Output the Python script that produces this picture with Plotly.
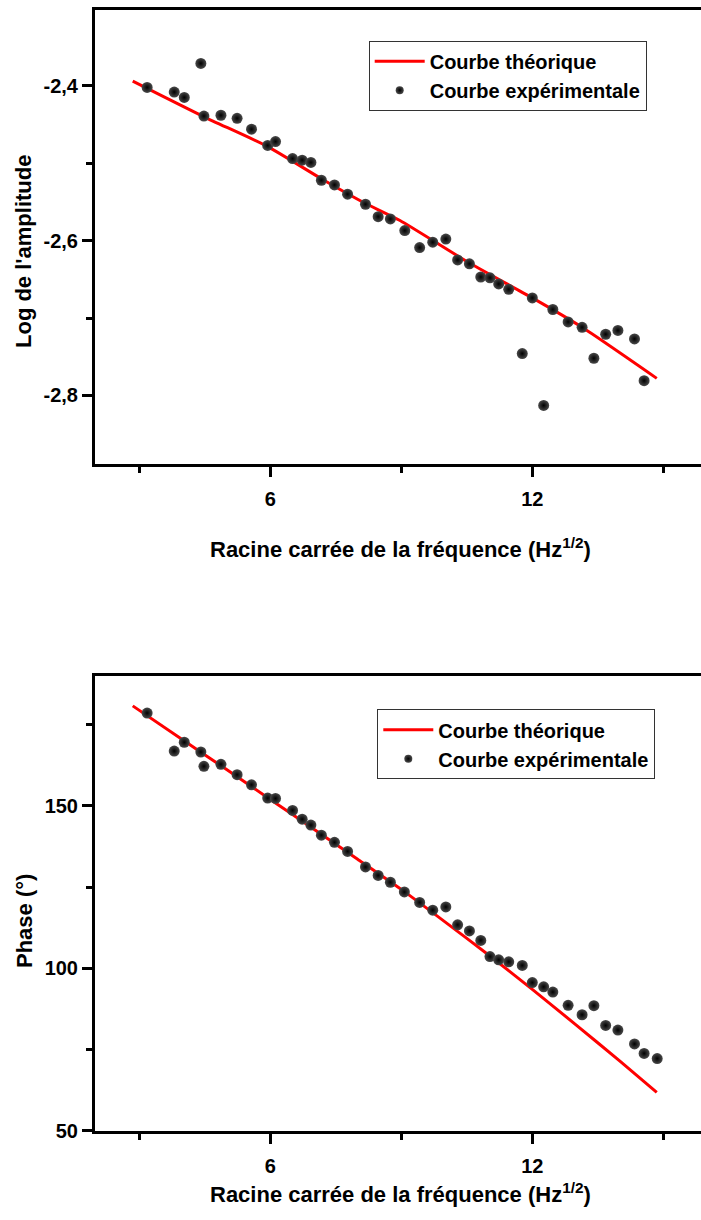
import plotly.graph_objects as go

W, H = 701, 1220

# ---------------- data: top chart (log amplitude) ----------------
x_amp = [3.18, 3.80, 4.03, 4.41, 4.48, 4.87, 5.24, 5.57, 5.94, 6.12,
         6.51, 6.73, 6.93, 7.17, 7.47, 7.77, 8.18, 8.47, 8.75, 9.08,
         9.42, 9.72, 10.02, 10.29, 10.56, 10.82, 11.03, 11.23, 11.46, 11.77,
         12.00, 12.26, 12.47, 12.82, 13.14, 13.41, 13.68, 13.96, 14.34, 14.56]
y_amp = [-2.402, -2.408, -2.415, -2.371, -2.439, -2.438, -2.442, -2.456, -2.477, -2.472,
         -2.494, -2.496, -2.499, -2.522, -2.528, -2.540, -2.553, -2.569, -2.572, -2.587,
         -2.609, -2.602, -2.598, -2.625, -2.630, -2.647, -2.648, -2.656, -2.663, -2.746,
         -2.674, -2.813, -2.689, -2.705, -2.712, -2.752, -2.721, -2.716, -2.727, -2.781]
x_amp_th = [2.85, 4.48, 5.94, 7.17, 8.18, 8.97, 10.56, 12.00, 13.14, 14.85]
y_amp_th = [-2.394, -2.440, -2.4785, -2.520, -2.552, -2.574, -2.629, -2.674, -2.712, -2.778]

# ---------------- data: bottom chart (phase) ----------------
x_ph = [3.18, 3.80, 4.03, 4.41, 4.48, 4.87, 5.24, 5.57, 5.94, 6.12,
        6.51, 6.73, 6.93, 7.17, 7.47, 7.77, 8.18, 8.47, 8.75, 9.07,
        9.42, 9.72, 10.02, 10.29, 10.56, 10.82, 11.03, 11.23, 11.46, 11.77,
        12.00, 12.26, 12.47, 12.82, 13.14, 13.41, 13.68, 13.96, 14.34, 14.56, 14.86]
y_ph = [178.6, 166.9, 169.6, 166.6, 162.2, 162.8, 159.6, 156.5, 152.4, 152.3,
        148.6, 145.9, 144.1, 141.0, 138.8, 136.0, 131.2, 128.6, 126.5, 123.5,
        120.3, 117.9, 118.9, 113.4, 111.5, 108.6, 103.6, 102.6, 102.0, 100.9,
        95.6, 94.3, 92.7, 88.6, 85.7, 88.5, 82.4, 81.0, 76.7, 73.8, 72.2]
x_ph_th = [2.85, 4.0, 5.0, 6.0, 7.0, 8.0, 9.0, 10.0, 11.0, 12.0, 13.0, 14.0, 14.85]
y_ph_th = [180.8, 170.3, 161.2, 152.0, 142.8, 133.6, 124.3, 114.3, 104.1, 93.5, 82.6, 71.5, 61.8]

# ---------------- tick labels ----------------
x_tickvals = [6, 12]
x_ticktext = ["6", "12"]
x_minor = [3, 9, 15]
y1_tickvals = [-2.8, -2.6, -2.4]
y1_ticktext = ["-2,8", "-2,6", "-2,4"]
y1_minor = [-2.7, -2.5, -2.3]
y2_tickvals = [50, 100, 150]
y2_ticktext = ["50", "100", "150"]
y2_minor = [75, 125, 175]

name_th = "Courbe théorique"
name_exp = "Courbe expérimentale"
x_title = "Racine carrée de la fréquence (Hz<sup>1/2</sup>)"
y1_title = "Log de l'amplitude"
y2_title = "Phase (°)"

FONT = "Liberation Sans, Arial, sans-serif"
RED = "#ff0000"

marker_style = dict(size=11, color="#4a4a4a",
                    gradient=dict(type="radial", color="#000000"),
                    line=dict(width=0))
legend_marker = dict(size=8, color="#4a4a4a",
                     gradient=dict(type="radial", color="#000000"),
                     line=dict(width=0))

fig = go.Figure()

for (xa, ya, xt, yt, xs, ys, leg) in [
    ("x", "y", x_amp_th, y_amp_th, x_amp, y_amp, "legend"),
    ("x2", "y2", x_ph_th, y_ph_th, x_ph, y_ph, "legend2"),
]:
    fig.add_trace(go.Scatter(x=xt, y=yt, mode="lines", name=name_th,
                             line=dict(color=RED, width=3, shape="spline", smoothing=0.6),
                             xaxis=xa, yaxis=ya, legend=leg, showlegend=True))
    fig.add_trace(go.Scatter(x=xs, y=ys, mode="markers", name=name_exp,
                             marker=marker_style, xaxis=xa, yaxis=ya,
                             showlegend=False, cliponaxis=False))
    fig.add_trace(go.Scatter(x=[None], y=[None], mode="markers", name=name_exp,
                             marker=legend_marker, xaxis=xa, yaxis=ya,
                             legend=leg, showlegend=True))

L = 95 / W
x_common = dict(
    range=[1.986, 15.863], domain=[L, 1], showline=True, linewidth=3,
    linecolor="black", mirror=True, ticks="outside", ticklen=10, tickwidth=2.5,
    tickcolor="black", tickvals=x_tickvals, ticktext=x_ticktext,
    ticklabelstandoff=5,
    tickfont=dict(family=FONT, size=20, color="black", weight="bold"),
    minor=dict(tickvals=x_minor, ticks="outside", ticklen=6, tickwidth=2.5,
               tickcolor="black", showgrid=False),
    showgrid=False, zeroline=False, automargin=False,
)
y_common = dict(
    showline=True, linewidth=3, linecolor="black", mirror=False,
    ticks="outside", ticklen=10, tickwidth=2.5, tickcolor="black",
    tickfont=dict(family=FONT, size=20, color="black", weight="bold"),
    showgrid=False, zeroline=False, automargin=False,
)

fig.update_layout(
    width=W, height=H,
    margin=dict(l=0, r=0, t=0, b=0),
    paper_bgcolor="white", plot_bgcolor="white",
    xaxis=dict(x_common, anchor="y"),
    yaxis=dict(y_common, range=[-2.888, -2.302],
               domain=[1 - 463.5 / H, 1 - 10 / H], anchor="x",
               tickvals=y1_tickvals, ticktext=y1_ticktext,
               minor=dict(tickvals=y1_minor, ticks="outside", ticklen=6,
                          tickwidth=2.5, tickcolor="black", showgrid=False)),
    xaxis2=dict(x_common, anchor="y2"),
    yaxis2=dict(y_common, range=[50, 190],
                domain=[1 - 1130.7 / H, 1 - 676 / H], anchor="x2",
                tickvals=y2_tickvals, ticktext=y2_ticktext,
                minor=dict(tickvals=y2_minor, ticks="outside", ticklen=6,
                           tickwidth=2.5, tickcolor="black", showgrid=False)),
    legend=dict(x=368.7 / W, y=1 - 40.7 / H, xanchor="left", yanchor="top",
                bgcolor="white", bordercolor="#333333", borderwidth=1,
                font=dict(family=FONT, size=20, color="black", weight="bold"),
                itemwidth=50, tracegroupgap=0),
    legend2=dict(x=377.3 / W, y=1 - 709.3 / H, xanchor="left", yanchor="top",
                 bgcolor="white", bordercolor="#333333", borderwidth=1,
                 font=dict(family=FONT, size=20, color="black", weight="bold"),
                 itemwidth=50, tracegroupgap=0),
    showlegend=True,
)

title_font = dict(family=FONT, size=22, color="black", weight="bold")
fig.add_annotation(text=y1_title, x=24 / W, y=1 - 252 / H, xref="paper", yref="paper",
                   textangle=-90, showarrow=False, font=title_font,
                   xanchor="center", yanchor="middle")
fig.add_annotation(text=y2_title, x=24 / W, y=1 - 921 / H, xref="paper", yref="paper",
                   textangle=-90, showarrow=False, font=title_font,
                   xanchor="center", yanchor="middle")
fig.add_annotation(text=x_title, x=400.5 / W, y=1 - 548 / H, xref="paper", yref="paper",
                   showarrow=False, font=title_font, xanchor="center", yanchor="middle")
fig.add_annotation(text=x_title, x=400.5 / W, y=1 - 1193 / H, xref="paper", yref="paper",
                   showarrow=False, font=title_font, xanchor="center", yanchor="middle")

fig.write_html("out.html", config={"displayModeBar": False},
               post_script="document.body.style.margin='0';")
